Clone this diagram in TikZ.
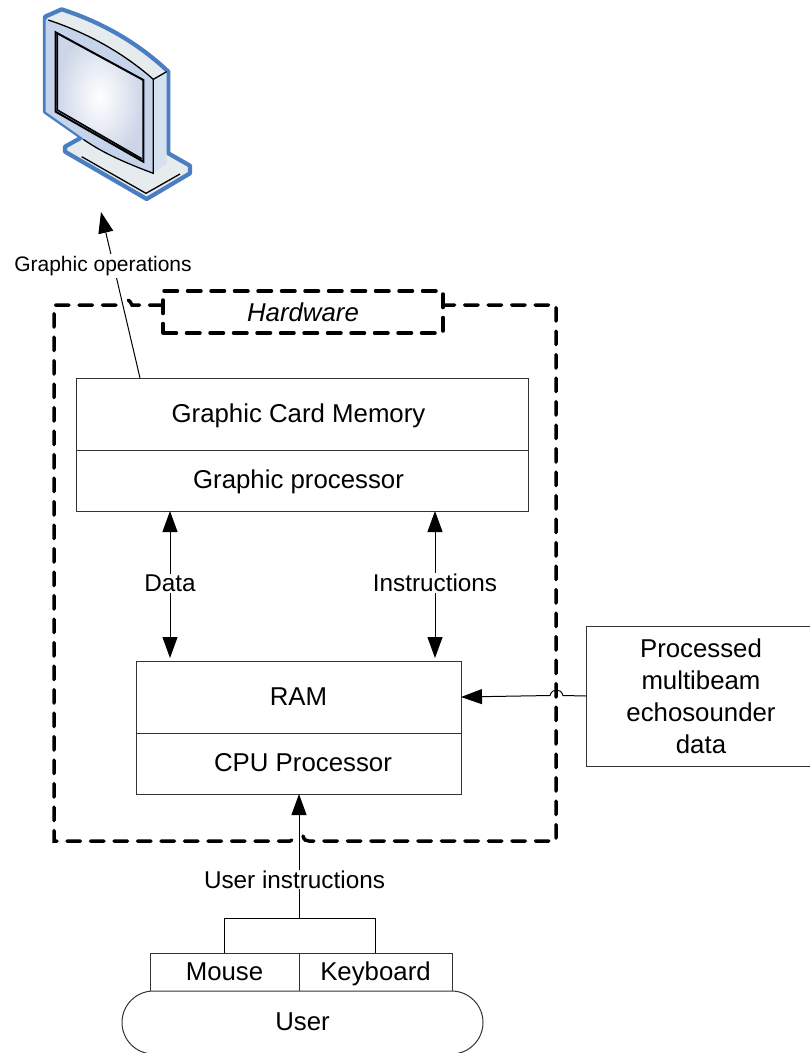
\documentclass[tikz,border=0pt]{standalone}
\usepackage{fontspec}
\setmainfont{Liberation Sans}
\usetikzlibrary{arrows.meta,shapes.misc}
\definecolor{monblue}{HTML}{4A7EC2}
\definecolor{monlight}{HTML}{C5D4EA}
\definecolor{montop}{HTML}{E6ECEE}
\definecolor{monscreen}{HTML}{CDD6E8}
\tikzset{
  x=1pt,y=-1pt,
  boxnode/.style={draw=black!80,line width=1pt,inner sep=0pt,outer sep=0pt,align=center,font=\fontsize{25.8}{32}\selectfont,fill=white},
  oneline/.style={text height=20pt,text depth=4pt},
  lbl/.style={fill=white,inner sep=1pt,font=\fontsize{24.3}{30}\selectfont},
  conn/.style={draw=black,line width=1pt},
  tip/.style={-{Triangle[length=21pt,width=15pt]}},
  tips/.style={{Triangle[length=21pt,width=15pt]}-{Triangle[length=21pt,width=15pt]}},
  hwline/.style={draw=black,line width=3.5pt,line cap=round,dash pattern=on 13.5pt off 10pt},
  monline/.style={draw=black,line width=1.3pt},
}
\begin{document}
\begin{tikzpicture}
\useasboundingbox (0,0) rectangle (810,1053);
\clip (0,0) rectangle (810,1053);

% monitor (coordinates taken on a 3x grid)
\begin{scope}[shift={(20,0)},scale=0.33333]
  \path[fill=montop,draw=monblue,line width=4.2pt,line join=round]
    (75,50) -- (125,28) .. controls (240,65) and (350,125) .. (445,215)
    -- (445,460) -- (510,497) -- (510,520) -- (380,597) -- (135,455) -- (135,440)
    -- (185,412) -- (75,335) -- cycle;
  \path[fill=monlight] (77,58) .. controls (190,95) and (300,150) .. (400,238)
    -- (400,520) .. controls (320,490) and (250,460) .. (190,415) -- (77,335) -- cycle;
  \path[fill=monlight!70!white] (400,238) -- (440,215) -- (440,490) -- (400,520) -- cycle;
  \path[inner color=white,outer color=monscreen,draw=black,line width=2pt]
    (107,97) -- (370,240) -- (370,485) -- (107,335) -- cycle;
  \draw[monline,line width=1.6pt] (112,100) -- (112,330) -- (365,476);
  \draw[monline] (85,60) .. controls (190,95) and (300,150) .. (400,238) -- (440,215);
  \draw[monline] (400,238) -- (400,520) .. controls (320,490) and (250,460) .. (190,418);
  \draw[monline] (185,470) -- (378,580) -- (480,522);
\end{scope}

% hardware frame
\node[hwline,minimum width=280pt,minimum height=42pt,inner sep=0pt,outer sep=0pt,
  font=\fontsize{25.8}{31}\selectfont\itshape] (hw) at (303,312) {Hardware};
\coordinate (hwl) at (hw.west |- 0,305);
\coordinate (hwr) at (hw.east |- 0,305);
\path[hwline,line join=miter]
  (hwl) -- (132,305) .. controls (130,300) and (126,298) .. (122,298)
  (116,305) -- (54,305) -- (54,841) -- (290,841)
  .. controls (293,841) and (294,838) .. (295.5,835)
  (303,836) .. controls (304,840) and (306,841) .. (309,841)
  -- (556,841) -- (556,305) -- (hwr);

% boxes
\node[boxnode,oneline,minimum width=452pt,minimum height=72pt] (gcm) at (302,414) {Graphic Card Memory\hspace*{7pt}};
\node[boxnode,oneline,minimum width=452pt,minimum height=61pt,anchor=north] (gp) at (gcm.south) {Graphic processor\hspace*{7pt}};
\node[boxnode,oneline,minimum width=325pt,minimum height=72pt] (ram) at (298.5,697) {RAM};
\node[boxnode,oneline,minimum width=325pt,minimum height=61pt,anchor=north] (cpu) at (ram.south) {\hspace*{9pt}CPU Processor};
\node[boxnode,minimum width=230pt,minimum height=140pt,text width=200pt,anchor=west] (proc) at (586,696) {Processed\\multibeam\\echosounder\\data};
\node[boxnode,oneline,minimum width=149pt,minimum height=38pt] (mouse) at (224.5,972) {Mouse};
\node[boxnode,oneline,minimum width=153pt,minimum height=38pt,anchor=west] (kbd) at (mouse.east) {Keyboard};
\node[boxnode,oneline,rounded rectangle,minimum width=361pt,minimum height=63pt,anchor=north] (user) at (302.5,991) {User};

% connectors
\coordinate (mon) at (101,212);
\draw[conn,tip] ([xshift=64pt]gcm.north west) -- (mon);
\node[lbl,font=\fontsize{21}{25}\selectfont,inner sep=2pt] (gop) at (103,266) {Graphic operations};
\draw[conn,tips] ([xshift=94pt]gp.south west) -- ([xshift=34pt,yshift=3pt]ram.north west)
  node[lbl,pos=0.49] (dat) {Data};
\draw[conn,tips] ([xshift=359pt]gp.south west) -- ([xshift=299pt,yshift=3pt]ram.north west)
  node[lbl,pos=0.49] (ins) {Instructions};
\coordinate (jl) at (550,695.5);
\coordinate (jr) at (563,695.5);
\draw[conn,tip] (proc.west) -- (jr) .. controls (561,688) and (552,688) .. (jl) -- (ram.east);
\coordinate (cj) at (299,918);
\draw[conn,tip] (cj) -- (cpu.south -| cj) node[lbl,pos=0.31] (uin) {\hspace*{-9pt}User instructions};
\draw[conn] (mouse.north) -- (mouse.north |- cj) -- (kbd.north |- cj) -- (kbd.north);
\end{tikzpicture}
\end{document}
